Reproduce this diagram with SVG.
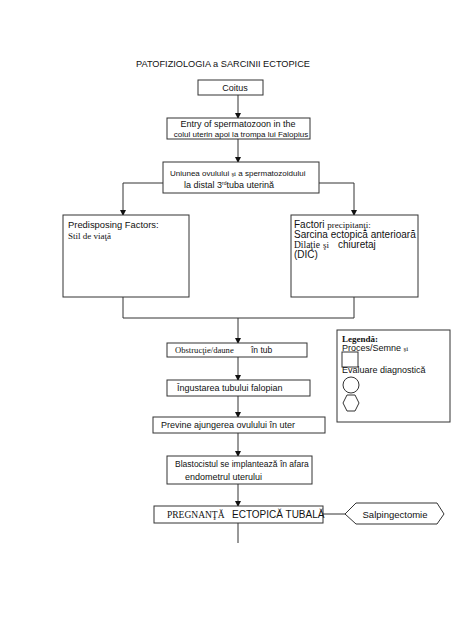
<svg xmlns="http://www.w3.org/2000/svg" width="474" height="632" viewBox="0 0 474 632">
<style>
.box{fill:#fff;stroke:#333;stroke-width:1}
.ln{fill:none;stroke:#333;stroke-width:1}
.s{font-family:"Liberation Sans",Arial,sans-serif;fill:#111}
.r{font-family:"Liberation Serif","Times New Roman",serif;fill:#111}
</style>
<defs>
<marker id="ah" viewBox="0 0 6 6" refX="5" refY="3" markerWidth="6" markerHeight="6" orient="auto" markerUnits="userSpaceOnUse">
<path d="M0,0 L6,3 L0,6 z" fill="#111"/>
</marker>
</defs>
<rect width="474" height="632" fill="#fff"/>
<text class="s" x="136" y="67" font-size="9.2">PATOFIZIOLOGIA a SARCINII ECTOPICE</text>
<g id="connectors">
<line class="ln" x1="238" y1="95" x2="238" y2="118" marker-end="url(#ah)"/>
<line class="ln" x1="238" y1="139" x2="238" y2="162" marker-end="url(#ah)"/>
<polyline class="ln" points="163,183 123,183 123,215" marker-end="url(#ah)"/>
<polyline class="ln" points="319,183 354,183 354,215" marker-end="url(#ah)"/>
<polyline class="ln" points="123,297 123,318 354,318 354,297"/>
<line class="ln" x1="238" y1="318" x2="238" y2="343" marker-end="url(#ah)"/>
<line class="ln" x1="238" y1="357" x2="238" y2="380" marker-end="url(#ah)"/>
<line class="ln" x1="238" y1="396" x2="238" y2="417" marker-end="url(#ah)"/>
<line class="ln" x1="238" y1="433" x2="238" y2="456" marker-end="url(#ah)"/>
<line class="ln" x1="238" y1="484" x2="238" y2="506" marker-end="url(#ah)"/>
<line class="ln" x1="323" y1="514" x2="345" y2="514"/>
<line class="ln" x1="238" y1="523" x2="238" y2="543"/>
</g>
<g id="coitus">
<rect class="box" x="198" y="80" width="65" height="15"/>
<text class="s" x="235" y="91" font-size="9" text-anchor="middle">Coitus</text>
</g>
<g id="entry">
<rect class="box" x="167" y="118" width="143" height="21"/>
<text class="s" x="238" y="127" font-size="9" text-anchor="middle">Entry of spermatozoon in the</text>
<text class="s" x="241" y="137" font-size="8" text-anchor="middle">colul uterin apoi la trompa lui Falopius</text>
</g>
<g id="uniunea">
<rect class="box" x="163" y="162" width="156" height="31"/>
<text class="s" x="170" y="176" font-size="8">Uniunea ovulului <tspan class="r" font-size="7">şi</tspan>  a spermatozoidului</text>
<text class="s" x="184" y="188" font-size="9">la distal 3<tspan font-size="5" dy="-3">rd</tspan><tspan dy="3">tuba uterină</tspan></text>
</g>
<g id="predisposing">
<rect class="box" x="63" y="215" width="126" height="82"/>
<text class="s" x="68" y="228" font-size="9.4">Predisposing Factors:</text>
<text class="r" x="68" y="239" font-size="9">Stil de viaţă</text>
</g>
<g id="factori">
<rect class="box" x="291" y="215" width="127" height="82"/>
<text class="s" x="294" y="228" font-size="10">Factori <tspan class="r" font-size="9">precipitanţi:</tspan></text>
<text class="s" x="294" y="238" font-size="10">Sarcina ectopică anterioară</text>
<text class="s" x="294" y="248" font-size="10"><tspan class="r" font-size="9.5">Dilaţie</tspan><tspan x="323" class="r" font-size="9">şi</tspan><tspan x="338">chiuretaj</tspan></text>
<text class="s" x="294" y="258" font-size="10">(DIC)</text>
</g>
<g id="obstructie">
<rect class="box" x="167" y="343" width="140" height="14"/>
<text class="r" x="175" y="353" font-size="8.6">Obstrucţie/daune</text>
<text class="s" x="251" y="353" font-size="8.5">în tub</text>
</g>
<g id="ingustarea">
<rect class="box" x="167" y="380" width="143" height="16"/>
<text class="s" x="177" y="391" font-size="9">Îngustarea tubului falopian</text>
</g>
<g id="previne">
<rect class="box" x="153" y="417" width="172" height="16"/>
<text class="s" x="161" y="428" font-size="9">Previne ajungerea ovulului în uter</text>
</g>
<g id="blastocist">
<rect class="box" x="167" y="456" width="145" height="28"/>
<text class="s" x="175" y="467" font-size="8.5">Blastocistul se implantează în afara</text>
<text class="s" x="185" y="480" font-size="9">endometrul uterului</text>
</g>
<g id="pregnanta">
<rect class="box" x="154" y="506" width="169" height="17"/>
<text class="r" x="167" y="518" font-size="9.5">PREGNANŢĂ</text>
<text class="s" x="232" y="518" font-size="10">ECTOPICĂ TUBALĂ</text>
</g>
<g id="salpingectomie">
<polygon class="box" points="345,514 356,503 437,503 444,514 437,524 356,524"/>
<text class="s" x="395" y="517.5" font-size="9.5" text-anchor="middle">Salpingectomie</text>
</g>
<g id="legend">
<rect class="box" x="337" y="330" width="113" height="92"/>
<text class="r" x="342" y="342" font-size="9" font-weight="bold">Legendă:</text>
<text class="s" x="342" y="351" font-size="9">Proces/Semne <tspan class="r" font-size="7">şi</tspan></text>
<rect class="ln" x="342" y="352" width="16" height="15"/>
<text class="s" x="342" y="373" font-size="9">Evaluare diagnostică</text>
<circle class="ln" cx="351" cy="385" r="8"/>
<polygon class="ln" points="343,403 347,395 355,395 359,403 355,411 347,411"/>
</g>
</svg>
